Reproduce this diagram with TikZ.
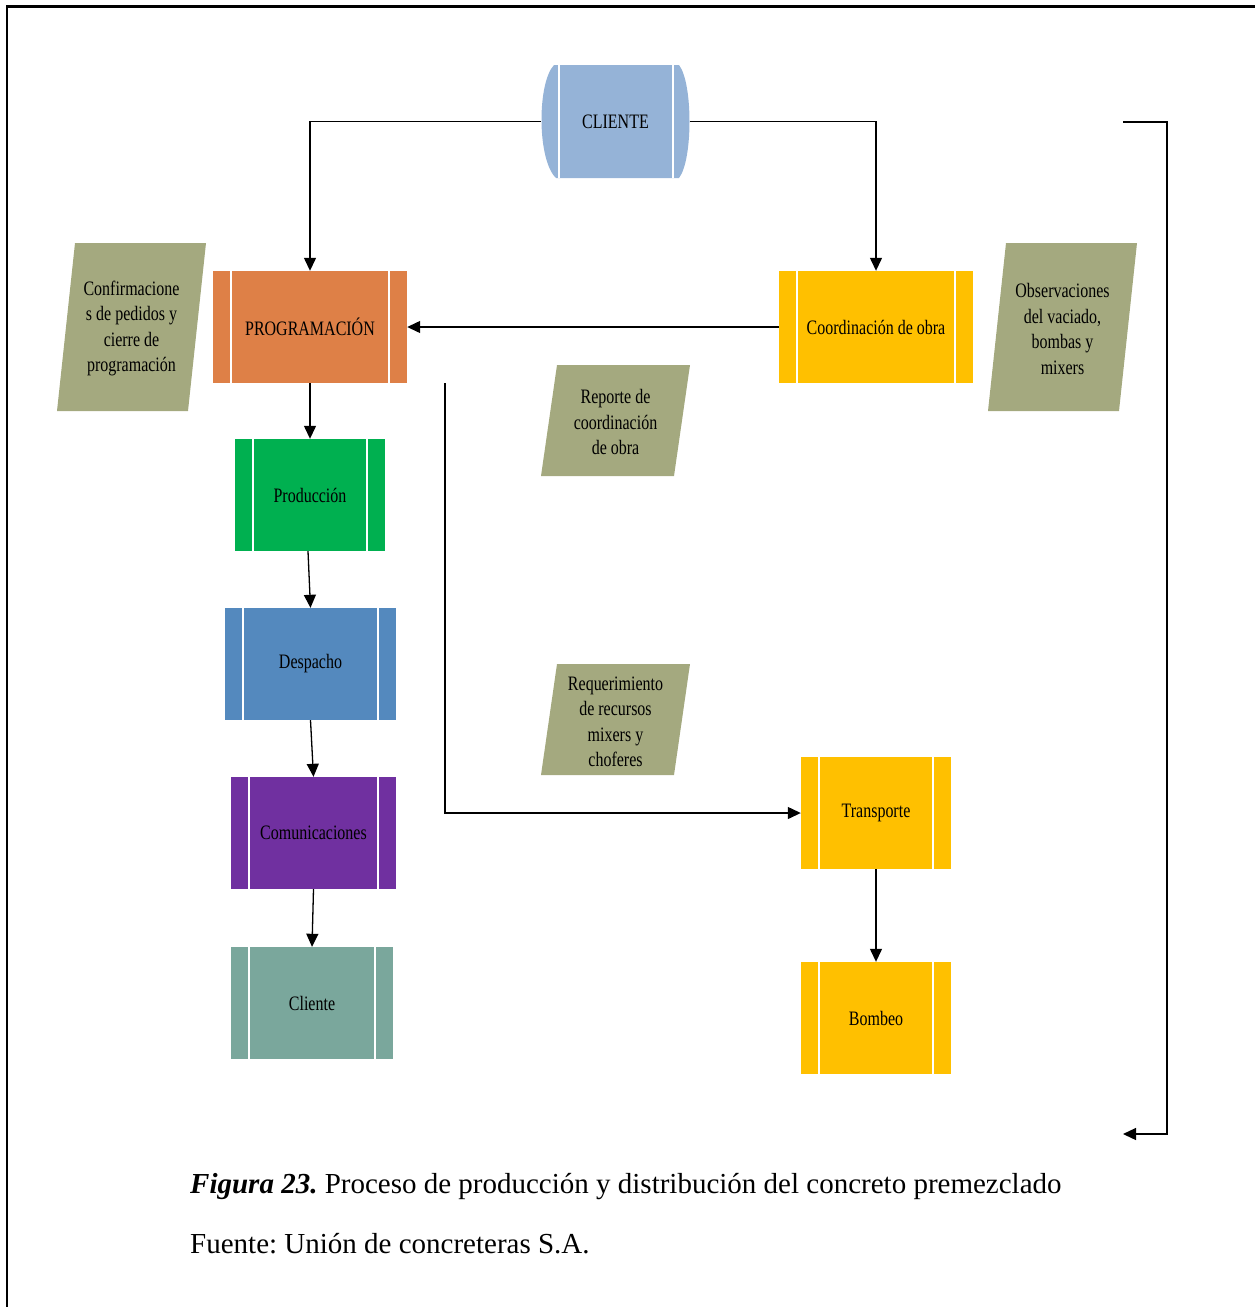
\documentclass[tikz,border=0pt]{standalone}
\usepackage{fontspec}
\setmainfont{Liberation Serif}
\newfontfamily\lblfont[FakeStretch=0.78]{Liberation Serif}
\usetikzlibrary{arrows.meta}
\frenchspacing

\definecolor{cliblue}{HTML}{95B3D7}
\definecolor{progorange}{HTML}{DE8047}
\definecolor{amber}{HTML}{FFC000}
\definecolor{prodgreen}{HTML}{00B050}
\definecolor{despblue}{HTML}{5489BE}
\definecolor{compurple}{HTML}{7030A0}
\definecolor{clisea}{HTML}{7AA79C}
\definecolor{notegray}{HTML}{A4A97F}

\newcommand{\lbl}{\lblfont\fontsize{20.5}{25.5}\selectfont}

\tikzset{
  procbox/.style={rectangle, inner sep=0pt, minimum height=112pt, fill=#1,
    font=\lbl, text=black,
    path picture={
      \draw[white,line width=2pt]
        ([xshift=18pt]path picture bounding box.north west) --
        ([xshift=18pt]path picture bounding box.south west);
      \draw[white,line width=2pt]
        ([xshift=-18pt]path picture bounding box.north east) --
        ([xshift=-18pt]path picture bounding box.south east);}},
  notebox/.style={rectangle, inner sep=0pt, minimum width=149pt,
    align=center, font=\lbl, text=black,
    path picture={
      \fill[notegray]
        ([xshift=#1]path picture bounding box.north west) --
        (path picture bounding box.north east) --
        ([xshift=-#1]path picture bounding box.south east) --
        (path picture bounding box.south west) -- cycle;}},
  conn/.style={line width=1.3pt, -{Triangle[length=13pt,width=12pt]}},
  storebox/.style={rectangle, inner sep=0pt, minimum width=149pt,
    minimum height=113pt, font=\lbl, text=black,
    path picture={
      \fill[cliblue]
        ([xshift=13pt]path picture bounding box.north west) --
        ([xshift=-11pt]path picture bounding box.north east)
        .. controls ([xshift=3pt,yshift=-18pt]path picture bounding box.north east)
        and ([xshift=3pt,yshift=18pt]path picture bounding box.south east) ..
        ([xshift=-11pt]path picture bounding box.south east) --
        ([xshift=15pt]path picture bounding box.south west)
        .. controls ([xshift=-4pt,yshift=18pt]path picture bounding box.south west)
        and ([xshift=-4pt,yshift=-18pt]path picture bounding box.north west) ..
        cycle;
      \draw[white,line width=2pt]
        ([xshift=18pt]path picture bounding box.north west) --
        ([xshift=18pt]path picture bounding box.south west);
      \draw[white,line width=2pt]
        ([xshift=-17pt]path picture bounding box.north east) --
        ([xshift=-17pt]path picture bounding box.south east);}}
}

\begin{document}
\begin{tikzpicture}[x=1pt,y=-1pt]
\useasboundingbox (0,0) rectangle (1255,1307);
\clip (0,0) rectangle (1255,1307);

% outer frame
\draw[line width=2.6pt] (7,6.5) rectangle (1320,1360);

% source
\node[storebox] (cli) at (615.5,121.5) {CLIENTE};

% process boxes
\node[procbox=progorange, minimum width=194pt] (prog) at (310,327) {PROGRAMACIÓN};
\node[procbox=amber, minimum width=194pt] (coord) at (876,327) {Coordinación de obra};
\node[procbox=prodgreen, minimum width=150pt] (prod) at (310,495) {Producción};
\node[procbox=despblue, minimum width=171pt] (desp) at (310.5,664) {Despacho};
\node[procbox=compurple, minimum width=165pt] (com) at (313.5,833) {Comunicaciones};
\node[procbox=clisea, minimum width=162pt] (cli2) at (312,1003) {Cliente};
\node[procbox=amber, minimum width=150pt] (trans) at (876,813) {Transporte};
\node[procbox=amber, minimum width=150pt] (bomb) at (876,1018) {Bombeo};

% information notes
\node[notebox=18pt, minimum height=168pt] (nconf) at (131.5,327)
  {\strut Confirmacione\\s de pedidos y\\cierre de\\programación};
\node[notebox=18pt, minimum height=168pt] (nobs) at (1062.5,327)
  {\strut Observaciones\\del vaciado,\\bombas y\\mixers};
\node[notebox=16pt, minimum height=111pt] (nrep) at (615.5,420.5)
  {\strut Reporte de\\coordinación\\de obra};
\node[notebox=16pt, minimum height=111pt] (nreq) at (615.5,719.5)
  {\strut Requerimiento\\de recursos\\mixers y\\choferes};

% flows
\draw[conn] (cli.west) -| (prog.north);
\draw[conn] (cli.east) -| (coord.north);
\draw[conn] (coord.west) -- (prog.east);
\draw[conn] (prog.south) -- (prod.north);
\draw[conn] ([xshift=-2pt]prod.south) -- (desp.north);
\draw[conn] (desp.south) -- (com.north);
\draw[conn] (com.south) -- (cli2.north);
\coordinate (branch) at (445,383);
\draw[conn] (branch) |- (trans.west);
\draw[conn] (trans.south) -- (bomb.north);
\coordinate (ret1) at (1123,122);
\coordinate (ret2) at (1123,1134);
\draw[conn] (ret1) -- ++(44,0) |- (ret2);

% caption
\node[anchor=base west, inner sep=0pt, font=\fontsize{29}{34}\selectfont] (cap) at (190,1193)
  {\textbf{\textit{Figura 23.}} Proceso de producción y distribución del concreto premezclado};
\node[anchor=base west, inner sep=0pt, font=\fontsize{29}{34}\selectfont] (src) at (190,1253)
  {Fuente: Unión de concreteras S.A.};
\end{tikzpicture}
\end{document}
